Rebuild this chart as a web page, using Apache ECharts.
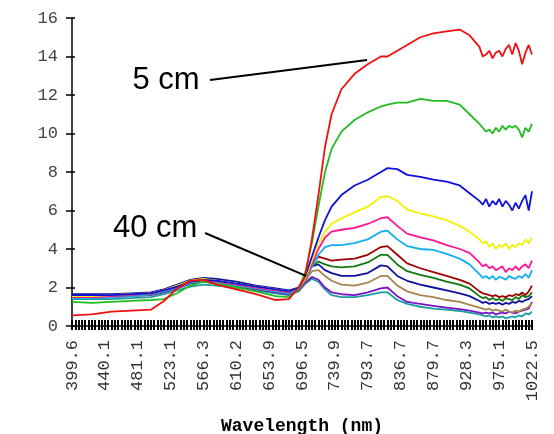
<!DOCTYPE html>
<html><head><meta charset="utf-8">
<script src="https://cdn.jsdelivr.net/npm/echarts@6/dist/echarts.min.js"></script>
<style>html,body{margin:0;padding:0;background:#fff}#c{width:554px;height:434px}</style>
</head><body><div id="c"></div>
<script>
// Wavelength tick labels (nm), one every 10 spectral bands
const tickLabels = ['399.6','440.1','481.1','523.1','566.3','610.2','653.9','696.5','739.9','793.7','836.7','879.7','928.3','975.1','1022.5'];
const bandsPerTick = 10;
const bandCount = (tickLabels.length - 1) * bandsPerTick + 1;

// band indices at which the curves were read
const sampleIdx = [0,6,12,18,24,28,32,36,40,44,50,56,62,66,69,71,73,75,77,79,82,86,90,94,96,99,102,106,110,114,118,121,124,125,126,127,128,129,130,131,132,133,134,135,136,137,138,139,140];

const seriesNames = ['5 cm','c2','c3','c4','c5','c6','c7','c8','c9','c10','c11','40 cm'];
const red =      [0.55,0.6,0.75,0.8,0.85,1.3,1.95,2.35,2.4,2.15,1.9,1.65,1.35,1.4,2.0,2.6,4.5,6.8,9.3,11.0,12.3,13.1,13.6,14.0,14.0,14.3,14.6,15.0,15.2,15.3,15.4,15.1,14.5,14.0,14.1,14.3,13.9,14.2,14.3,14.0,14.4,14.6,14.1,14.7,14.3,13.6,14.2,14.6,14.1];
const green =    [1.25,1.2,1.25,1.3,1.35,1.4,1.7,2.1,2.3,2.2,2.0,1.8,1.55,1.5,1.9,2.8,4.3,6.2,8.0,9.2,10.1,10.7,11.1,11.4,11.5,11.6,11.6,11.8,11.7,11.7,11.5,11.0,10.5,10.3,10.1,10.2,10.0,10.3,10.1,10.4,10.2,10.4,10.3,10.4,10.2,9.8,10.3,10.1,10.5];
const blue =     [1.6,1.6,1.6,1.65,1.7,1.85,2.05,2.3,2.4,2.35,2.2,2.05,1.9,1.8,2.0,2.6,3.6,4.6,5.5,6.2,6.8,7.3,7.6,8.0,8.2,8.15,7.85,7.75,7.6,7.5,7.3,6.9,6.5,6.3,6.6,6.2,6.5,6.3,6.6,6.2,6.5,6.3,6.0,6.4,6.1,6.5,6.8,6.0,7.0];
const yellow =   [1.55,1.55,1.6,1.65,1.7,1.85,2.1,2.35,2.45,2.35,2.2,2.05,1.9,1.8,2.0,2.5,3.4,4.3,4.9,5.3,5.6,5.9,6.2,6.7,6.75,6.5,6.05,5.85,5.7,5.5,5.2,4.9,4.5,4.3,4.4,4.1,4.3,4.0,4.2,4.1,4.3,4.0,4.2,4.1,4.3,4.2,4.5,4.3,4.6];
const pink =     [1.5,1.5,1.55,1.6,1.7,1.85,2.05,2.3,2.4,2.3,2.15,2.0,1.85,1.75,2.0,2.5,3.2,4.0,4.6,4.9,5.0,5.1,5.3,5.6,5.65,5.2,4.8,4.6,4.45,4.2,4.0,3.8,3.3,3.1,3.2,3.0,3.1,2.9,3.0,3.1,2.8,3.0,2.9,3.1,2.9,3.1,3.2,3.0,3.4];
const cyan =     [1.45,1.45,1.5,1.55,1.65,1.8,2.0,2.25,2.35,2.25,2.1,1.95,1.8,1.7,1.95,2.45,3.1,3.7,4.1,4.2,4.2,4.3,4.5,4.9,4.95,4.5,4.15,4.0,3.95,3.75,3.5,3.2,2.7,2.5,2.6,2.45,2.6,2.4,2.55,2.5,2.4,2.6,2.5,2.45,2.6,2.5,2.7,2.5,2.9];
const darkRed =  [1.55,1.55,1.6,1.65,1.7,1.85,2.05,2.3,2.4,2.3,2.15,2.0,1.85,1.75,2.0,2.5,3.2,3.6,3.5,3.4,3.45,3.5,3.7,4.1,4.15,3.7,3.25,3.0,2.8,2.6,2.4,2.2,1.8,1.7,1.65,1.6,1.55,1.6,1.5,1.55,1.5,1.6,1.55,1.65,1.6,1.75,1.6,1.8,2.1];
const darkGreen =[1.5,1.5,1.55,1.6,1.65,1.8,2.0,2.25,2.35,2.25,2.1,1.95,1.8,1.7,1.95,2.45,3.1,3.35,3.2,3.1,3.05,3.1,3.3,3.7,3.7,3.2,2.85,2.65,2.5,2.3,2.15,1.95,1.55,1.45,1.5,1.35,1.45,1.35,1.4,1.3,1.45,1.4,1.35,1.5,1.4,1.6,1.5,1.55,1.75];
const navy =     [1.65,1.65,1.65,1.7,1.75,1.9,2.15,2.4,2.5,2.45,2.3,2.1,1.95,1.85,2.0,2.5,3.1,3.2,2.9,2.75,2.6,2.6,2.75,3.15,3.1,2.6,2.35,2.15,2.0,1.85,1.7,1.55,1.3,1.2,1.25,1.15,1.2,1.15,1.2,1.1,1.2,1.15,1.25,1.2,1.3,1.25,1.35,1.4,1.55];
const tan =      [1.5,1.5,1.5,1.55,1.65,1.8,2.0,2.25,2.35,2.25,2.1,1.95,1.8,1.7,1.9,2.35,2.85,2.9,2.6,2.35,2.15,2.1,2.25,2.6,2.6,2.1,1.8,1.6,1.5,1.35,1.25,1.1,0.95,0.9,0.85,0.9,0.8,0.85,0.8,0.75,0.85,0.75,0.7,0.8,0.75,0.85,0.9,1.0,1.2];
const purple =   [1.45,1.45,1.5,1.55,1.6,1.75,1.95,2.2,2.3,2.2,2.05,1.9,1.75,1.65,1.85,2.25,2.55,2.4,2.0,1.75,1.65,1.6,1.75,1.95,2.0,1.55,1.25,1.15,1.05,0.95,0.88,0.8,0.7,0.65,0.7,0.65,0.7,0.6,0.65,0.7,0.65,0.75,0.7,0.65,0.75,0.8,0.85,0.9,1.25];
const teal =     [1.4,1.4,1.4,1.45,1.5,1.65,1.85,2.05,2.15,2.1,2.0,1.85,1.7,1.6,1.8,2.2,2.45,2.3,1.9,1.6,1.5,1.5,1.6,1.75,1.75,1.35,1.15,1.0,0.9,0.85,0.78,0.7,0.6,0.55,0.5,0.55,0.45,0.5,0.45,0.5,0.4,0.45,0.5,0.45,0.55,0.5,0.65,0.6,0.75];
const curves = [red, green, blue, yellow, pink, cyan, darkRed, darkGreen, navy, tan, purple, teal];
const colors = ['#ee1111','#22bb22','#1010dd','#f2f200','#ff1493','#12b0ee','#a00000','#107a10','#1010a0','#a8844e','#7a14c8','#1a9e9e'];

// annotations: [label, text position (band, value), leader start, leader end]
const annotations = [
  {text: '5 cm',  at: [28.6, 12.78], from: [42.0, 12.78], to: [89.8, 13.82]},
  {text: '40 cm', at: [25.3, 5.09],  from: [40.5, 4.83],  to: [71.2, 2.6]}
];

const bands = Array.from({length: bandCount}, (_, i) => String(i));
const mono = '"Liberation Mono", "DejaVu Sans Mono", monospace';

const chart = echarts.init(document.getElementById('c'), null, {renderer: 'canvas'});
const option = {
  animation: false,
  backgroundColor: '#ffffff',
  grid: {left: 72, right: 22, top: 18, bottom: 108, containLabel: false, outerBoundsMode: 'none'},
  xAxis: [{
    type: 'category', data: bands, boundaryGap: false, position: 'bottom',
    name: 'Wavelength (nm)', nameLocation: 'middle', nameGap: 91,
    nameTextStyle: {fontFamily: mono, fontWeight: 'bold', fontSize: 18, color: '#000'},
    axisLine: {lineStyle: {color: '#000', width: 1.5}},
    axisTick: {interval: 0, length: 4, lineStyle: {color: '#000', width: 2}},
    axisLabel: {interval: bandsPerTick - 1, rotate: 90, margin: 14, fontFamily: mono, fontSize: 17, color: '#333',
      formatter: (v, i) => tickLabels[Math.round(Number(v) / bandsPerTick)]},
    splitLine: {show: false}
  }, {
    type: 'category', data: bands, boundaryGap: false, position: 'bottom',
    axisLine: {show: false},
    axisTick: {interval: 0, inside: true, length: 6, lineStyle: {color: '#000', width: 2}},
    axisLabel: {show: false}, splitLine: {show: false}
  }],
  yAxis: [{
    type: 'value', min: 0, max: 16, interval: 2,
    axisLine: {show: true, lineStyle: {color: '#000', width: 1.5}},
    axisTick: {show: true, length: 6, lineStyle: {color: '#000', width: 1.5}},
    axisLabel: {margin: 14, fontFamily: mono, fontSize: 17, color: '#444'},
    splitLine: {show: false}
  }, {
    type: 'value', min: 0, max: 16, interval: 2, position: 'left',
    axisLine: {show: false},
    axisTick: {show: true, inside: true, length: 3, lineStyle: {color: '#000', width: 1.5}},
    axisLabel: {show: false}, splitLine: {show: false}
  }],
  series: curves.map((vals, k) => ({
    name: seriesNames[k], type: 'line', showSymbol: false, symbol: 'none',
    color: colors[k], lineStyle: {width: 1.8, color: colors[k]},
    data: vals.map((v, j) => [String(sampleIdx[j]), v]),
    z: 2 + (curves.length - k)
  }))
};
chart.setOption(option);

const pxf = (p) => {
  const a = chart.convertToPixel({gridIndex: 0}, ['0', p[1]]);
  const b = chart.convertToPixel({gridIndex: 0}, [String(bandCount - 1), p[1]]);
  return [a[0] + (b[0] - a[0]) * p[0] / (bandCount - 1), a[1]];
};
const graphics = [];
annotations.forEach(a => {
  const t = pxf(a.at), f = pxf(a.from), e = pxf(a.to);
  graphics.push({type: 'text', x: t[0], y: t[1], z: 100,
    style: {text: a.text, font: '31px "Liberation Sans", Arial, sans-serif', fill: '#000', align: 'center', verticalAlign: 'middle'}});
  graphics.push({type: 'line', z: 100, shape: {x1: f[0], y1: f[1], x2: e[0], y2: e[1]}, style: {stroke: '#000', lineWidth: 2}});
});
chart.setOption({graphic: graphics});
</script></body></html>
